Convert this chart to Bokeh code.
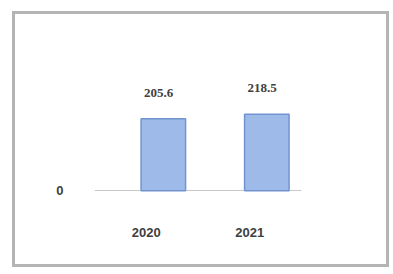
from bokeh.plotting import figure
from bokeh.models import FactorRange, Range1d, ColumnDataSource, FixedTicker, LabelSet
from bokeh.transform import dodge
from bokeh.embed import file_html
from bokeh.resources import INLINE

years = ["2020", "2021"]
values = [205.6, 218.5]
value_labels = ["205.6", "218.5"]

src = ColumnDataSource(dict(x=years, y=values, lab=value_labels))

p = figure(width=377, height=256, output_backend="svg", toolbar_location=None,
           x_range=FactorRange(*years, range_padding=0),
           y_range=Range1d(-59, 375),
           min_border_left=79, min_border_right=91, min_border_top=45, min_border_bottom=59)
p.margin = (11, 0, 0, 12)
p.styles = {"border": "3px solid #b4b4b4", "box-sizing": "border-box"}
p.outline_line_color = None
p.background_fill_color = "white"
p.border_fill_color = "white"

p.vbar(x=dodge("x", 0.165, range=p.x_range), top="y", bottom=0, width=0.43,
       source=src, fill_color="#9dbae8", line_color="#7094d0", line_width=1.5)

labels = LabelSet(x=dodge("x", 0.12, range=p.x_range), y="y", text="lab", source=src,
                  text_align="center", y_offset=22, text_font_size="13px",
                  text_font_style="bold", text_color="#404040", text_font="Liberation Sans")
p.add_layout(labels)

p.xgrid.grid_line_color = None
p.ygrid.ticker = FixedTicker(ticks=[0])
p.ygrid.grid_line_color = "#c8c8c8"
p.yaxis.ticker = FixedTicker(ticks=[0])
p.yaxis.axis_line_color = None
p.yaxis.major_tick_line_color = None
p.yaxis.minor_tick_line_color = None
p.yaxis.major_label_standoff = 25
p.yaxis.major_label_text_font_size = "13px"
p.yaxis.major_label_text_font_style = "bold"
p.yaxis.major_label_text_color = "#404040"
p.xaxis.axis_line_color = None
p.xaxis.major_tick_line_color = None
p.xaxis.major_label_standoff = 10
p.xaxis.major_label_text_font_size = "13px"
p.xaxis.major_label_text_font_style = "bold"
p.xaxis.major_label_text_color = "#404040"

open("out.html", "w").write(file_html(p, INLINE))
